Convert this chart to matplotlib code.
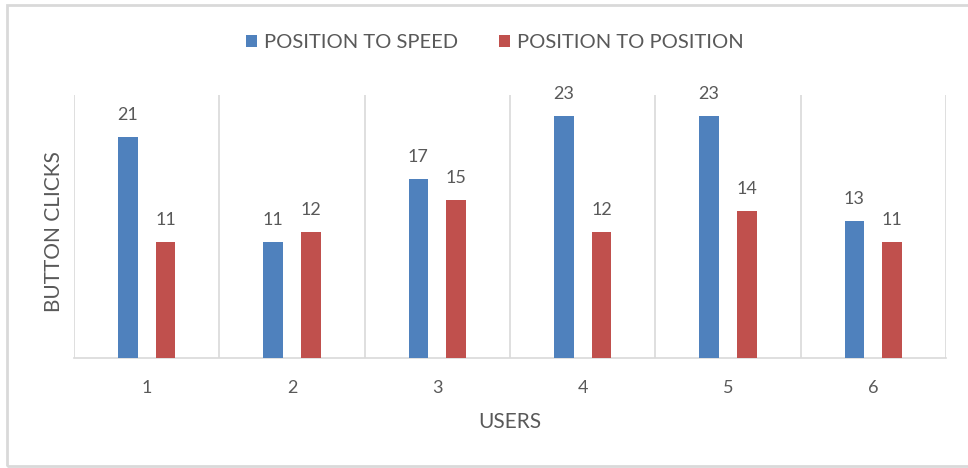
import matplotlib.pyplot as plt
from matplotlib.patches import Rectangle
import numpy as np

plt.rcParams['font.family'] = ['Lato', 'DejaVu Sans']

users = ['1', '2', '3', '4', '5', '6']
position_to_speed = [21, 11, 17, 23, 23, 13]
position_to_position = [11, 12, 15, 12, 14, 11]
series_names = ['POSITION TO SPEED', 'POSITION TO POSITION']

blue = '#4f81bd'
red = '#c0504d'
text_col = '#595959'
grid_col = '#d9d9d9'

fig = plt.figure(figsize=(9.68, 4.68), dpi=100)
ax = fig.add_axes([74 / 968, 1 - 358 / 468, (946 - 74) / 968, (358 - 95) / 468])

x = np.arange(len(users))
w = 0.135
off = 0.13
b1 = ax.bar(x - off, position_to_speed, w, color=blue, label=series_names[0], zorder=3)
b2 = ax.bar(x + off, position_to_position, w, color=red, label=series_names[1], zorder=3)

for bars in (b1, b2):
    for rect in bars:
        h = rect.get_height()
        ax.annotate(f'{h:g}', (rect.get_x() + rect.get_width() / 2, h),
                    xytext=(0, 10), textcoords='offset points',
                    ha='center', va='bottom', fontsize=13, color=text_col)

ax.set_xlim(-0.5, len(users) - 0.5)
ax.set_ylim(0, 25)
ax.set_yticks([])
ax.set_xticks(x)
ax.set_xticklabels(users, fontsize=13, color=text_col)
ax.tick_params(axis='x', length=0, pad=16)

for b in np.arange(-0.5, len(users), 1.0):
    ax.axvline(b, color=grid_col, lw=1.2, zorder=1)

for s in ['top', 'left', 'right']:
    ax.spines[s].set_visible(False)
ax.spines['bottom'].set_color(grid_col)
ax.spines['bottom'].set_linewidth(1.2)

ax.set_xlabel('USERS', fontsize=15, color=text_col, labelpad=11)
ax.set_ylabel('BUTTON CLICKS', fontsize=15, color=text_col)
ax.yaxis.set_label_coords(-0.012, 0.48)

fig.legend(handles=[b1, b2], labels=series_names, loc='center',
           bbox_to_anchor=(495 / 968, 1 - 43 / 468), ncol=2, frameon=False,
           fontsize=14.5, labelcolor=text_col, handlelength=0.55, handleheight=0.55,
           handletextpad=0.35, columnspacing=2.0)

fig.patches.append(Rectangle((7 / 968, 0.004), 1.2, 1 - 5 / 468 - 0.004,
                             transform=fig.transFigure, fill=False,
                             edgecolor=grid_col, lw=2))

fig.savefig('out.png', dpi=100)
